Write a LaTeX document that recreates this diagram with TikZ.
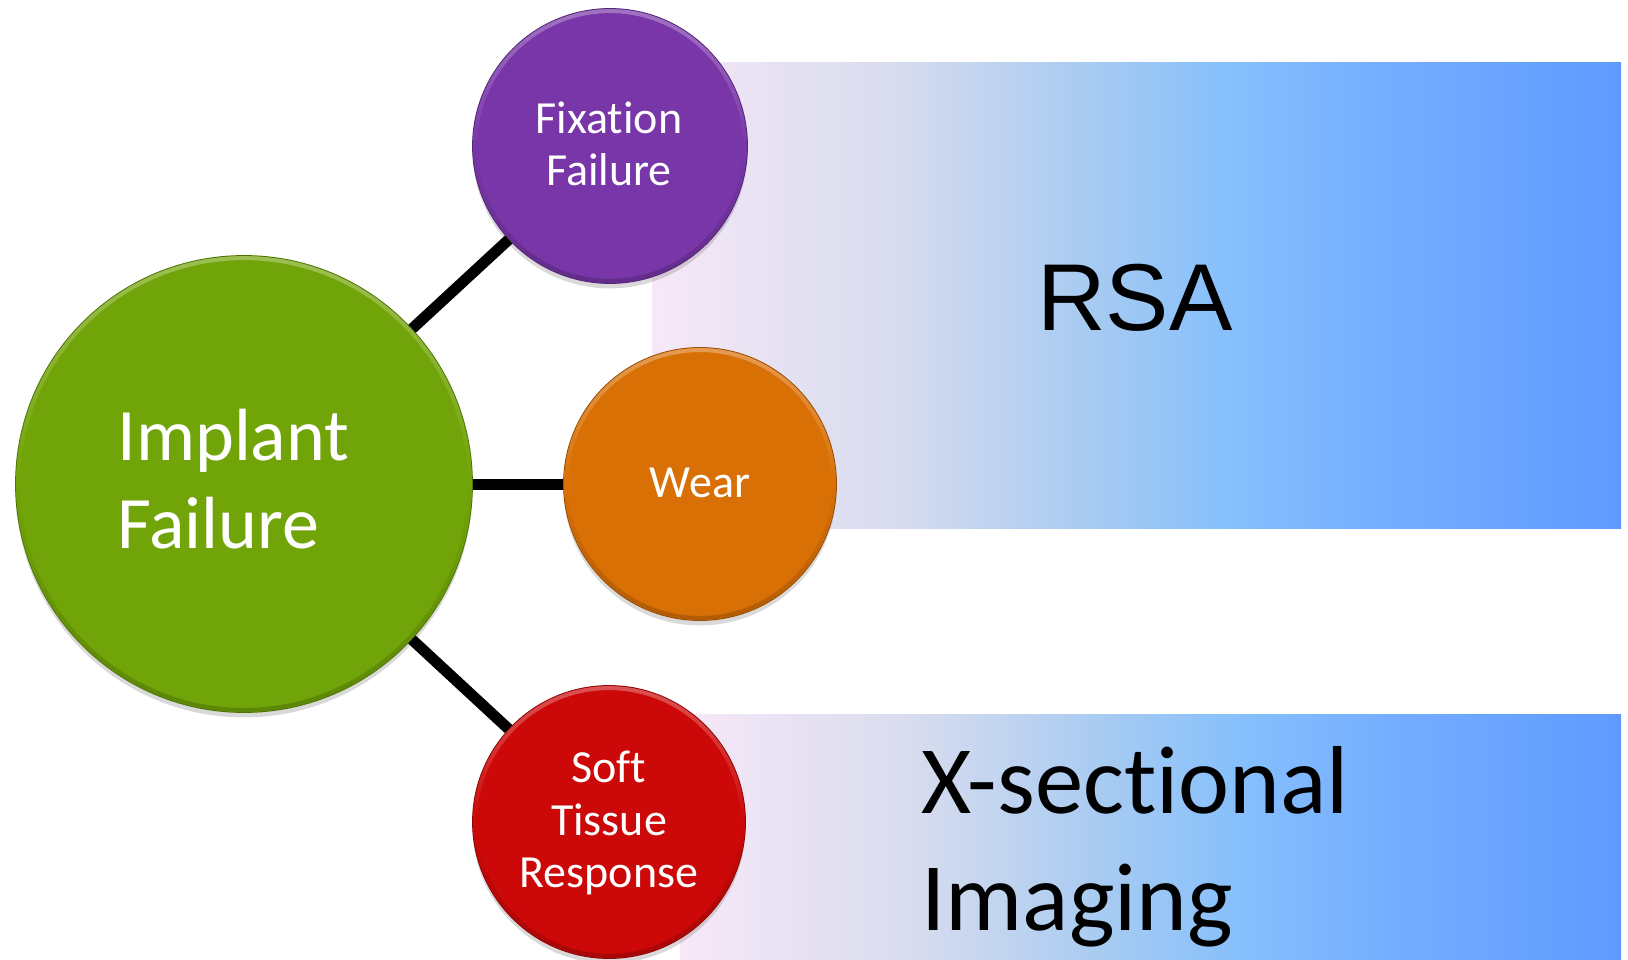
\documentclass[tikz,border=0pt]{standalone}
\usepackage{fontspec}
\setmainfont[Ligatures={NoCommon,NoRare}]{Carlito}
\newfontfamily\arialfont{Liberation Sans}
\usetikzlibrary{shadows}
\definecolor{cgreen}{RGB}{113,164,8}
\definecolor{cpurple}{RGB}{120,54,168}
\definecolor{corange}{RGB}{217,112,6}
\definecolor{cred}{RGB}{204,8,8}
\definecolor{gA}{RGB}{247,232,248}
\definecolor{gB}{RGB}{215,220,238}
\definecolor{gC}{RGB}{165,202,242}
\definecolor{gD}{RGB}{135,192,252}
\definecolor{gE}{RGB}{115,172,255}
\definecolor{gF}{RGB}{95,155,255}
\pgfdeclarehorizontalshading{bandshade}{100bp}{color(0bp)=(gA); color(25bp)=(gA); color(37.5bp)=(gB); color(48bp)=(gC); color(54.5bp)=(gD); color(63.5bp)=(gE); color(75bp)=(gF); color(100bp)=(gF)}
\newcommand\bevelring[3]{%
  \shade[even odd rule, top color=#2!70!white, bottom color=#2!82!black, middle color=#2]
    (#1.center) circle[radius=#3] (#1.center) circle[radius=#3-2pt];}
\begin{document}
\begin{tikzpicture}[x=0.5pt,y=-0.5pt,
  bubble/.style={circle, inner sep=0pt, draw=#1!70!black, line width=0.5pt, fill=#1,
    drop shadow={opacity=0.3, shadow xshift=0pt, shadow yshift=-2.5pt}},
  link/.style={line width=5.5pt, black},
  wtext/.style={text=white, inner sep=0pt, font=\fontsize{23}{26}\selectfont},
  bigtext/.style={text=black, inner sep=0pt, font=\fontsize{48.3}{57}\selectfont},
  band/.style={shading=bandshade, draw=none}]
\useasboundingbox (0,0) rectangle (1628,959);
% gradient bands
\path[band] (652,62) rectangle (1621,528);
\path[band] (680,714) rectangle (1621,959);
% circles
\node[bubble=cgreen, minimum size=228.4pt] (impl) at (244,484) {};
\node[bubble=cpurple, minimum size=137.4pt] (fix) at (610,146) {};
\node[bubble=corange, minimum size=136.4pt] (wear) at (700,484) {};
\node[bubble=cred, minimum size=136.4pt] (soft) at (609,822) {};
\bevelring{impl}{cgreen}{113.95pt}
\bevelring{fix}{cpurple}{68.45pt}
\bevelring{wear}{corange}{67.95pt}
\bevelring{soft}{cred}{67.95pt}
% connectors
\draw[link] (impl) -- (fix);
\draw[link] (impl) -- (wear);
\draw[link] (impl) -- (soft);
% circle texts
\node[wtext, font=\fontsize{37}{44}\selectfont, anchor=base west] (implA) at (117,460) {Implant};
\node[wtext, font=\fontsize{37}{44}\selectfont, anchor=base west] (implB) at (117,548) {Failure};
\node[wtext, anchor=base] (fixA) at (609,133) {Fixation};
\node[wtext, anchor=base] (fixB) at (609,185) {Failure};
\node[wtext, anchor=base] (wearA) at (700,497) {Wear};
\node[wtext, anchor=base] (softA) at (609,782) {Soft};
\node[wtext, anchor=base] (softB) at (609,835) {Tissue};
\node[wtext, anchor=base] (softC) at (609,887) {Response};
% band texts
\node[bigtext, font=\arialfont\fontsize{47.5}{57}\selectfont, anchor=base] (rsa) at (1135,330) {RSA};
\node[bigtext, anchor=base west] (xsA) at (921,813) {X-sectional};
\node[bigtext, anchor=base west] (xsB) at (921,930) {Imaging};
\end{tikzpicture}
\end{document}
